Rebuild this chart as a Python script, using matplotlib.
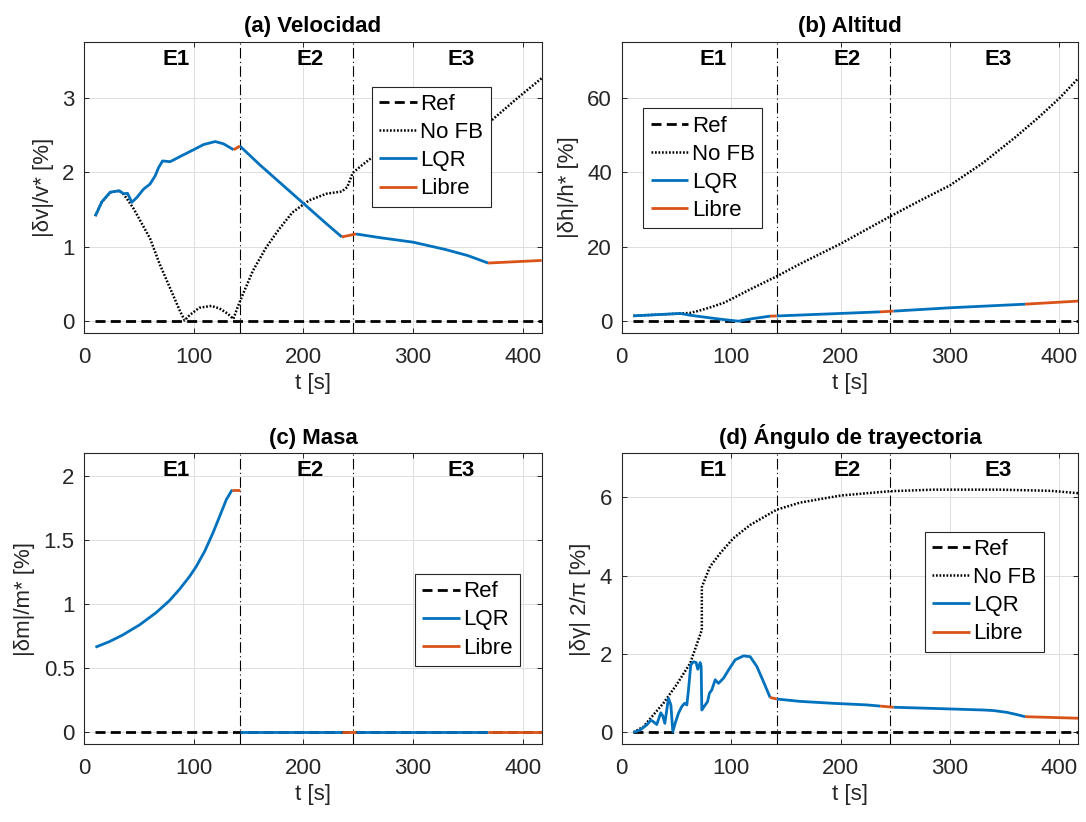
import numpy as np
import matplotlib
matplotlib.use("Agg")
import matplotlib.pyplot as plt
from matplotlib.ticker import FuncFormatter, FixedLocator
from matplotlib.transforms import blended_transform_factory

plt.rcParams['font.family'] = ['Liberation Sans', 'DejaVu Sans']

# ---------------- data ----------------
t_start = 10.0
t_end = 417.4
phase_bounds = [0.0, 142.0, 245.0, t_end]
phase_names = ["E1", "E2", "E3"]

# (a) velocity error [%]
vel_nofb_t = [10, 16, 24, 32, 36, 40, 45, 52.5, 60, 68.7, 77.8, 86.9, 91.6, 96, 105, 116,
              123.5, 131, 136, 140, 145, 154, 166, 178, 190, 205, 221, 235, 240, 245, 254,
              262, 300, 340, 369, 395, 417.4]
vel_nofb = [1.41, 1.60, 1.73, 1.75, 1.70, 1.62, 1.51, 1.31, 1.11, 0.77, 0.46, 0.15, 0.01, 0.08,
            0.18, 0.205, 0.17, 0.10, 0.03, 0.19, 0.37, 0.68, 0.99, 1.24, 1.46, 1.62, 1.71, 1.74,
            1.80, 1.99, 2.10, 2.19, 2.36, 2.52, 2.66, 2.99, 3.26]
vel_lqr_t = [[10, 16, 23.6, 32, 35.8, 39.5, 43.4, 48, 54, 60, 64.7, 67.8, 71.4, 78.4, 83, 87.6,
              99.7, 108.9, 119.5, 127, 136.3],
             [142, 160, 180, 200, 220, 235],
             [248, 270, 300, 330, 350, 368.5]]
vel_lqr = [[1.41, 1.60, 1.73, 1.75, 1.71, 1.715, 1.595, 1.66, 1.77, 1.84, 1.95, 2.06, 2.15, 2.14,
            2.175, 2.21, 2.30, 2.37, 2.41, 2.38, 2.30],
           [2.35, 2.10, 1.84, 1.58, 1.32, 1.13],
           [1.17, 1.12, 1.06, 0.96, 0.88, 0.78]]
vel_free_t = [[136.3, 142], [235, 248], [368.5, 417.4]]
vel_free = [[2.30, 2.35], [1.13, 1.17], [0.78, 0.815]]

# (b) altitude error [%]
alt_nofb_t = [10.7, 29, 53.4, 62, 70, 80.8, 93, 102, 117, 142, 163, 200, 245, 270, 300, 330,
              360, 380, 400, 417.4]
alt_nofb = [1.43, 1.7, 2.07, 2.2, 2.75, 3.7, 4.9, 6.2, 8.5, 12.1, 15.4, 20.8, 28.1, 32.0, 36.5,
            42.5, 49.5, 54.5, 59.9, 65.3]
alt_lqr_t = [[10.7, 29, 53.4, 62.5, 77.8, 90, 106.7, 120.4, 135.6],
             [141.7, 181.3, 236],
             [248.4, 300, 368.7]]
alt_lqr = [[1.43, 1.7, 2.07, 1.6, 1.0, 0.54, 0.0, 0.72, 1.35],
           [1.4, 1.86, 2.5],
           [2.7, 3.6, 4.57]]
alt_free_t = [[135.6, 141.7], [236, 248.4], [368.7, 417.4]]
alt_free = [[1.35, 1.4], [2.5, 2.7], [4.57, 5.4]]

# (c) mass error [%]
mass_lqr_t = [[10.2, 23, 35.2, 50.4, 65.6, 77.8, 87, 96.1, 102.2, 109.8, 117.4, 123.5, 129.6,
               135],
              [142, 235],
              [248, 368.5]]
mass_lqr = [[0.664, 0.708, 0.760, 0.838, 0.934, 1.028, 1.117, 1.216, 1.294, 1.411, 1.555, 1.684,
             1.815, 1.893],
            [0.0, 0.0],
            [0.0, 0.0]]
mass_free_t = [[135, 141.7], [235, 248], [368.5, 417.4]]
mass_free = [[1.893, 1.893], [0.0, 0.0], [0.0, 0.0]]

# (d) flight path angle error [%]
gam_nofb_t = [10.7, 19.9, 27.5, 38, 50, 62.5, 73.2, 73.2, 76.2, 80.8, 90, 102, 117.4, 141.7,
              163, 200, 245, 285, 346, 392, 417.4]
gam_nofb = [0.0, 0.145, 0.40, 0.74, 1.21, 1.76, 2.61, 3.70, 3.92, 4.23, 4.57, 4.95, 5.29, 5.68,
            5.86, 6.04, 6.15, 6.19, 6.19, 6.16, 6.10]
gam_lqr_t = [[10.7, 16.8, 22.9, 26.6, 29, 32, 35.7, 37.5, 39.4, 42.7, 44.9, 46.7, 48.8, 51.9,
              54.9, 57.4, 59.5, 61, 63.1, 65.6, 68, 69.5, 71.7, 72.6, 73.2, 75.3, 78.4, 80.2,
              82.3, 85.4, 88.4, 93, 97.6, 103.7, 111.3, 117.4, 123.5, 129.6, 135.6],
             [141.7, 163, 193.5, 224, 236.2],
             [248.4, 285, 330.7, 340, 352, 360, 368.7]]
gam_lqr = [[0.0, 0.06, 0.19, 0.31, 0.27, 0.20, 0.50, 0.42, 0.23, 0.87, 0.70, 0.02, 0.23, 0.49,
            0.66, 0.74, 0.70, 1.08, 1.72, 1.80, 1.78, 1.61, 1.78, 1.68, 0.57, 0.66, 0.78, 1.00,
            1.08, 1.34, 1.25, 1.38, 1.59, 1.85, 1.95, 1.93, 1.68, 1.29, 0.89],
           [0.85, 0.79, 0.74, 0.70, 0.67],
           [0.64, 0.61, 0.57, 0.555, 0.51, 0.46, 0.40]]
gam_free_t = [[135.6, 141.7], [236.2, 248.4], [368.7, 417.4]]
gam_free = [[0.89, 0.85], [0.67, 0.64], [0.40, 0.36]]

titles = ["(a) Velocidad", "(b) Altitud", "(c) Masa", "(d) Ángulo de trayectoria"]
ylabels = ["|δv|/v* [%]", "|δh|/h* [%]", "|δm|/m* [%]", "|δγ| 2/π [%]"]
yticks = [[0, 1, 2, 3], [0, 20, 40, 60], [0, 0.5, 1, 1.5, 2], [0, 2, 4, 6]]
xticks = [0, 100, 200, 300, 400]
legend_labels = ["Ref", "No FB", "LQR", "Libre"]

# ---------------- style ----------------
C_LQR = "#0072BD"
C_FREE = "#D95319"
C_AX = "#262626"
C_GRID = "#dedede"
FS = 16

fig = plt.figure(figsize=(10.86, 8.22), dpi=100)
positions = [[0.0776, 0.5945, 0.4212, 0.3547],
             [0.5725, 0.5945, 0.4205, 0.3547],
             [0.0776, 0.0943, 0.4212, 0.3543],
             [0.5725, 0.0943, 0.4205, 0.3543]]
legend_anchor = [(0.3423, 0.8945), (0.5924, 0.8682), (0.3821, 0.3017), (0.8517, 0.3532)]

panels = [
    (vel_nofb_t, vel_nofb, vel_lqr_t, vel_lqr, vel_free_t, vel_free),
    (alt_nofb_t, alt_nofb, alt_lqr_t, alt_lqr, alt_free_t, alt_free),
    (None, None, mass_lqr_t, mass_lqr, mass_free_t, mass_free),
    (gam_nofb_t, gam_nofb, gam_lqr_t, gam_lqr, gam_free_t, gam_free),
]

fmt = FuncFormatter(lambda v, p: "%g" % v)

for k, (nt, nv, lt, lv, ft, fv) in enumerate(panels):
    ax = fig.add_axes(positions[k])
    handles = []
    # reference
    h_ref, = ax.plot([t_start, t_end], [0, 0], color="k", lw=2.0,
                     dashes=(3.6, 1.9), dash_capstyle="butt", zorder=3)
    handles.append(h_ref)
    # open loop
    if nt is not None:
        h_nofb, = ax.plot(nt, nv, color="k", lw=1.8, dashes=(0.7, 0.7),
                          dash_capstyle="butt", zorder=4)
        handles.append(h_nofb)
    # controlled and free-flight segments
    for seg_t, seg_v in zip(lt, lv):
        h_lqr, = ax.plot(seg_t, seg_v, color=C_LQR, lw=2.0, zorder=5,
                         solid_capstyle="butt", solid_joinstyle="round")
    for seg_t, seg_v in zip(ft, fv):
        h_free, = ax.plot(seg_t, seg_v, color=C_FREE, lw=2.0, zorder=5,
                          solid_capstyle="butt")
    handles += [h_lqr, h_free]

    # axis ranges
    all_vals = [v for seg in lv for v in seg] + [v for seg in fv for v in seg]
    if nv is not None:
        all_vals += list(nv)
    vmax = max(all_vals)
    ax.set_ylim(-0.05 * vmax, 1.15 * vmax)
    ax.set_xlim(0, t_end)

    # phase boundaries
    for tb in phase_bounds[1:-1]:
        ax.axvline(tb, color="k", lw=0.8, dashes=(9.5, 3, 1, 3), zorder=2)
    trans = blended_transform_factory(ax.transData, ax.transAxes)
    for i, name in enumerate(phase_names):
        xm = 0.5 * (phase_bounds[i] + phase_bounds[i + 1])
        ax.text(xm, 0.94, name, transform=trans, ha="left", va="center",
                fontsize=FS, fontweight="bold", color="k", zorder=6)

    ax.xaxis.set_major_locator(FixedLocator(xticks))
    ax.yaxis.set_major_locator(FixedLocator(yticks[k]))
    ax.yaxis.set_major_formatter(fmt)
    ax.grid(True, color=C_GRID, lw=0.7, zorder=0)
    ax.set_axisbelow(True)
    ax.tick_params(direction="in", length=3.6, width=0.7, colors=C_AX,
                   labelsize=FS, top=True, right=True)
    ax.tick_params(axis="x", pad=9.5)
    ax.tick_params(axis="y", pad=7)
    for sp in ax.spines.values():
        sp.set_color(C_AX)
        sp.set_linewidth(0.8)
    ax.set_xlabel("t [s]", fontsize=FS, color=C_AX, labelpad=4)
    ax.set_ylabel(ylabels[k], fontsize=FS, color=C_AX, labelpad=6)
    ax.set_title(titles[k], fontsize=FS, fontweight="bold", color="k", pad=7)

    labels = legend_labels if nt is not None else ["Ref", "LQR", "Libre"]
    leg = ax.legend(handles, labels, loc="upper left", bbox_to_anchor=legend_anchor[k],
                    bbox_transform=fig.transFigure, borderaxespad=0, fontsize=FS,
                    handlelength=1.7, handletextpad=0.15, labelspacing=0.32,
                    borderpad=0.33, fancybox=False, framealpha=1, edgecolor=C_AX)
    leg.get_frame().set_linewidth(0.8)
    leg.set_zorder(10)

fig.savefig("out.png", dpi=100)
